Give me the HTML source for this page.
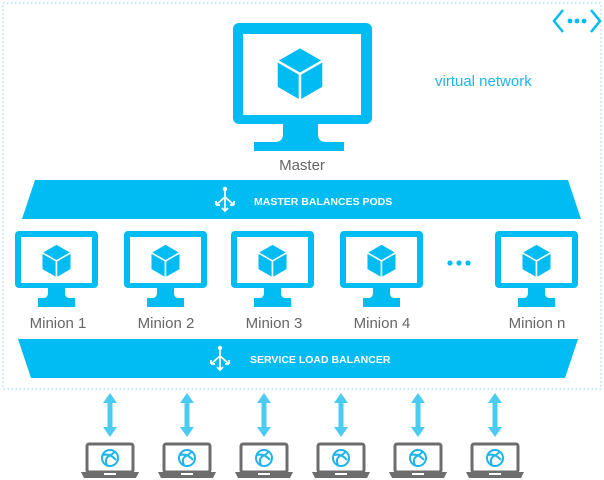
<!DOCTYPE html>
<html><head><style>
html,body{margin:0;padding:0;background:#fff;}
svg{display:block;}
text{font-family:"Liberation Sans",sans-serif;}
</style></head><body>
<svg width="604" height="480" viewBox="0 0 604 480" xmlns="http://www.w3.org/2000/svg">
<defs>
<g id="cube">
<polygon points="0,-1 0.87,-0.5 0,0 -0.87,-0.5" fill="#00bcf2" stroke="#fff" stroke-width="0.09"/>
<polygon points="-0.87,-0.5 0,0 0,1 -0.87,0.5" fill="#00bcf2" stroke="#fff" stroke-width="0.09"/>
<polygon points="0.87,-0.5 0,0 0,1 0.87,0.5" fill="#00bcf2" stroke="#fff" stroke-width="0.09"/>
</g>
<g id="minion">
<rect x="0" y="0" width="83" height="57" rx="4" fill="#00bcf2"/>
<rect x="6" y="6" width="71" height="46" fill="#fff"/>
<path d="M33,57 L50,57 L50,62 Q50,67 55,67 L55,67 L28,67 Q33,67 33,62 Z" fill="#00bcf2"/>
<rect x="23" y="67" width="37" height="9" fill="#00bcf2"/>
<use href="#cube" transform="translate(41.5,30) scale(17)"/>
</g>
<g id="laptop">
<rect x="-23" y="-13" width="46" height="28" rx="2" fill="#fff" stroke="#6d6d6d" stroke-width="3"/>
<path d="M-29,15 L29,15 L26,21 L-26,21 Z" fill="#6d6d6d"/>
<rect x="-6" y="16" width="12" height="2" fill="#fff"/>
<circle cx="0" cy="1" r="8" fill="none" stroke="#1fb4ea" stroke-width="2"/>
<path d="M-7,-2 Q0,-4 6,3 M-3,8 Q-6,2 -1,-1 Q3,-3 5,-6" fill="none" stroke="#1fb4ea" stroke-width="2"/>
</g>
<g id="arr">
<polygon points="0,0 7,10 2.5,10 2.5,34 7,34 0,44 -7,34 -2.5,34 -2.5,10 -7,10" fill="#4ccbf2"/>
</g>
<g id="lb">
<line x1="0" y1="-11" x2="0" y2="11" stroke="#fff" stroke-width="1.8"/>
<circle cx="0" cy="-11" r="2.2" fill="#fff"/>
<path d="M0,-3 L-9,5 M0,-3 L9,5 M-9,5 l0,-4 M-9,5 l4,0 M9,5 l0,-4 M9,5 l-4,0 M-3,8 L0,11 L3,8" fill="none" stroke="#fff" stroke-width="1.8"/>
</g>
</defs>

<rect x="3" y="3" width="598" height="386" fill="none" stroke="#9fdcf2" stroke-width="1.2" stroke-dasharray="1.5,2.5"/>

<!-- network icon -->
<path d="M563,10 L554,21 L563,32 M591,10 L600,21 L591,32" fill="none" stroke="#00bcf2" stroke-width="2.5"/>
<circle cx="570" cy="21" r="2.4" fill="#00bcf2"/><circle cx="577" cy="21" r="2.4" fill="#00bcf2"/><circle cx="584" cy="21" r="2.4" fill="#00bcf2"/>
<text x="435" y="86" font-size="15" fill="#1fb4ea">virtual network</text>

<!-- master -->
<rect x="233" y="23" width="139" height="101" rx="6" fill="#00bcf2"/>
<rect x="243" y="34" width="118" height="81" fill="#fff"/>
<path d="M283,124 L318,124 L318,134 Q318,142 326,142 L275,142 Q283,142 283,134 Z" fill="#00bcf2"/>
<rect x="254" y="142" width="90" height="9" fill="#00bcf2"/>
<use href="#cube" transform="translate(300,74) scale(27)"/>
<text x="302" y="170" font-size="15" fill="#666" text-anchor="middle">Master</text>

<!-- band 1 -->
<polygon points="35,180 568,180 581,219 22,219" fill="#00bcf2"/>
<use href="#lb" transform="translate(225,200)"/>
<text x="254" y="205" font-size="10.5" font-weight="bold" fill="#fff">MASTER BALANCES PODS</text>

<!-- minions -->
<use href="#minion" transform="translate(15,231)"/>
<use href="#minion" transform="translate(124,231)"/>
<use href="#minion" transform="translate(231,231)"/>
<use href="#minion" transform="translate(340,231)"/>
<use href="#minion" transform="translate(495,231)"/>
<circle cx="450" cy="263" r="2.6" fill="#00bcf2"/><circle cx="459" cy="263" r="2.6" fill="#00bcf2"/><circle cx="468" cy="263" r="2.6" fill="#00bcf2"/>
<g font-size="15" fill="#666" text-anchor="middle">
<text x="58" y="328">Minion 1</text>
<text x="166" y="328">Minion 2</text>
<text x="274" y="328">Minion 3</text>
<text x="382" y="328">Minion 4</text>
<text x="537" y="328">Minion n</text>
</g>

<!-- band 2 -->
<polygon points="18,339 578,339 565,378 31,378" fill="#00bcf2"/>
<use href="#lb" transform="translate(220,359)"/>
<text x="250" y="363" font-size="10.5" font-weight="bold" fill="#fff">SERVICE LOAD BALANCER</text>

<!-- arrows -->
<use href="#arr" transform="translate(110,393)"/>
<use href="#arr" transform="translate(187,393)"/>
<use href="#arr" transform="translate(264,393)"/>
<use href="#arr" transform="translate(341,393)"/>
<use href="#arr" transform="translate(418,393)"/>
<use href="#arr" transform="translate(495,393)"/>

<!-- laptops -->
<use href="#laptop" transform="translate(110,457)"/>
<use href="#laptop" transform="translate(187,457)"/>
<use href="#laptop" transform="translate(264,457)"/>
<use href="#laptop" transform="translate(341,457)"/>
<use href="#laptop" transform="translate(418,457)"/>
<use href="#laptop" transform="translate(495,457)"/>
</svg>
</body></html>
